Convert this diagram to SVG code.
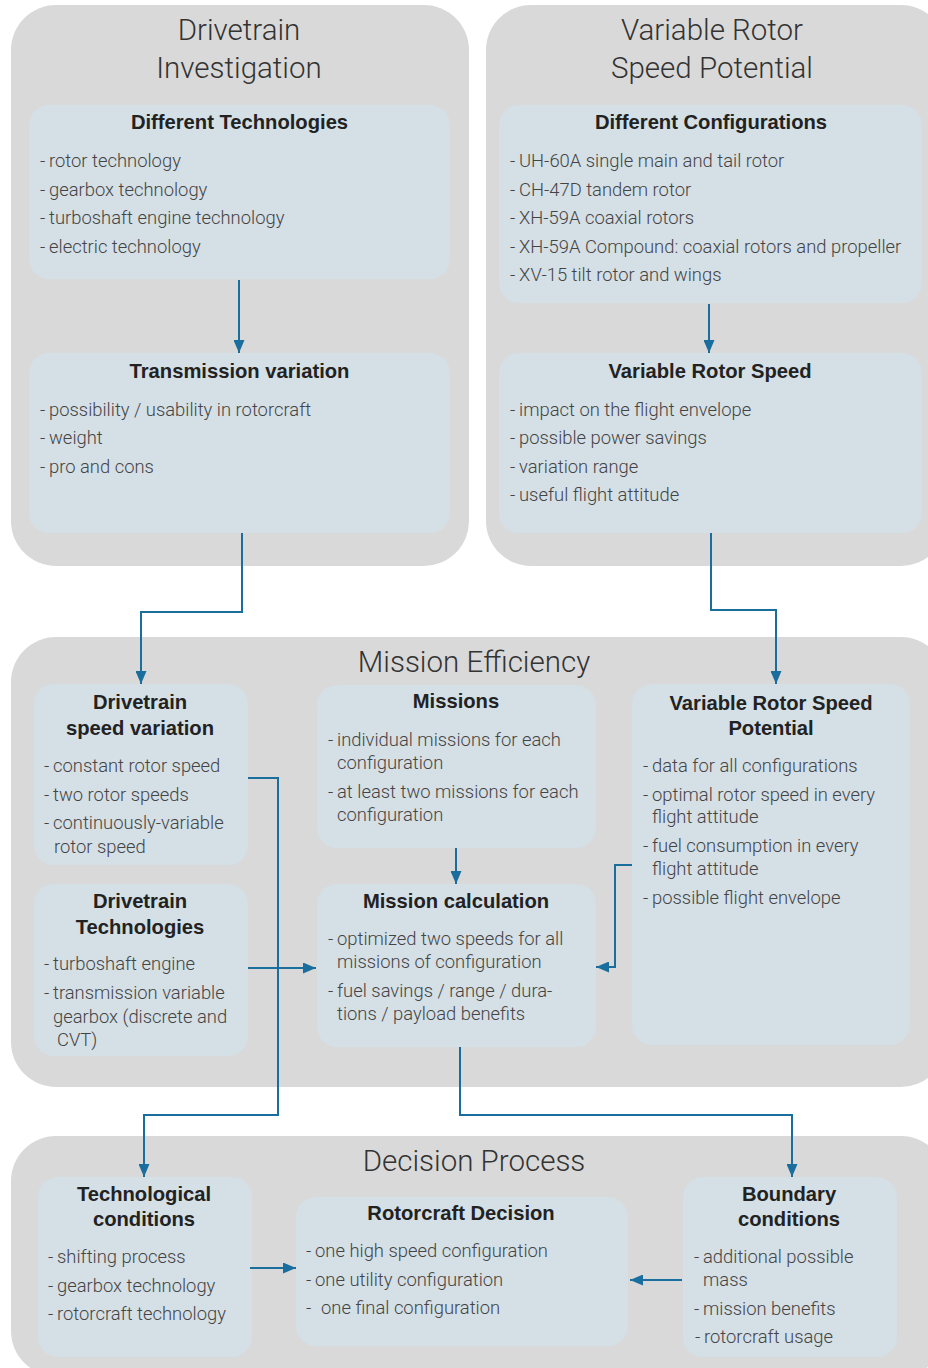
<svg xmlns="http://www.w3.org/2000/svg" width="928" height="1368" viewBox="0 0 928 1368">
<defs>
<marker id="arr" viewBox="0 0 13 11" refX="13" refY="5.5" markerWidth="13" markerHeight="11" markerUnits="userSpaceOnUse" orient="auto">
<path d="M0,0 L13,5.5 L0,11 z" fill="#1a6e9e"/>
</marker>
<style>
.panel{fill:#d9d9d9}
.box{fill:#d4dfe6}
.ptitle{font-family:Roboto,"Liberation Sans",sans-serif;font-weight:300;font-size:29.5px;fill:#333;text-anchor:middle}
.h{font-family:"Liberation Sans",Arial,sans-serif;font-weight:bold;font-size:20.2px;fill:#222;text-anchor:middle}
.t{font-family:Roboto,"Liberation Sans",sans-serif;font-weight:300;font-size:18.4px;fill:#444}
.c{fill:none;stroke:#1a6e9e;stroke-width:2}
</style>
</defs>
<rect width="928" height="1368" fill="#fff"/>

<g id="panel-drivetrain-investigation">
<rect class="panel" x="11" y="5" width="458" height="561" rx="45"/>
<text class="ptitle" x="239" y="40">Drivetrain</text>
<text class="ptitle" x="239" y="78">Investigation</text>
</g>
<g id="panel-variable-rotor">
<rect class="panel" x="486" y="5" width="460" height="561" rx="45"/>
<text class="ptitle" x="712" y="40">Variable Rotor</text>
<text class="ptitle" x="712" y="78">Speed Potential</text>
</g>
<g id="panel-mission-efficiency">
<rect class="panel" x="11" y="637" width="935" height="450" rx="45"/>
<text class="ptitle" x="474" y="672">Mission Efficiency</text>
</g>
<g id="panel-decision-process">
<rect class="panel" x="11" y="1136" width="935" height="240" rx="45"/>
<text class="ptitle" x="474" y="1171">Decision Process</text>
</g>

<g id="different-technologies">
<rect class="box" x="29" y="105" width="421" height="174" rx="20"/>
<text class="h" x="239.5" y="129">Different Technologies</text>
<text class="t"><tspan x="40" y="167">-</tspan><tspan x="49" y="167">rotor technology</tspan><tspan x="40" y="195.5">-</tspan><tspan x="49" y="195.5">gearbox technology</tspan><tspan x="40" y="224">-</tspan><tspan x="49" y="224">turboshaft engine technology</tspan><tspan x="40" y="252.5">-</tspan><tspan x="49" y="252.5">electric technology</tspan></text>
</g>
<g id="transmission-variation">
<rect class="box" x="29" y="353" width="421" height="180" rx="20"/>
<text class="h" x="239.5" y="378">Transmission variation</text>
<text class="t"><tspan x="40" y="415.5">-</tspan><tspan x="49" y="415.5">possibility / usability in rotorcraft</tspan><tspan x="40" y="444">-</tspan><tspan x="49" y="444">weight</tspan><tspan x="40" y="472.5">-</tspan><tspan x="49" y="472.5">pro and cons</tspan></text>
</g>
<g id="different-configurations">
<rect class="box" x="499" y="105" width="423" height="198" rx="20"/>
<text class="h" x="711" y="129">Different Configurations</text>
<text class="t"><tspan x="510" y="167">-</tspan><tspan x="519" y="167">UH-60A single main and tail rotor</tspan><tspan x="510" y="195.5">-</tspan><tspan x="519" y="195.5">CH-47D tandem rotor</tspan><tspan x="510" y="224">-</tspan><tspan x="519" y="224">XH-59A coaxial rotors</tspan><tspan x="510" y="252.5">-</tspan><tspan x="519" y="252.5">XH-59A Compound: coaxial rotors and propeller</tspan><tspan x="510" y="281">-</tspan><tspan x="519" y="281">XV-15 tilt rotor and wings</tspan></text>
</g>
<g id="variable-rotor-speed">
<rect class="box" x="499" y="353" width="423" height="180" rx="20"/>
<text class="h" x="710" y="378">Variable Rotor Speed</text>
<text class="t"><tspan x="510" y="415.5">-</tspan><tspan x="519" y="415.5">impact on the flight envelope</tspan><tspan x="510" y="444">-</tspan><tspan x="519" y="444">possible power savings</tspan><tspan x="510" y="472.5">-</tspan><tspan x="519" y="472.5">variation range</tspan><tspan x="510" y="501">-</tspan><tspan x="519" y="501">useful flight attitude</tspan></text>
</g>

<g id="drivetrain-speed-variation">
<rect class="box" x="34" y="684" width="214" height="181" rx="20"/>
<text class="h" x="140" y="709">Drivetrain</text>
<text class="h" x="140" y="735">speed variation</text>
<text class="t"><tspan x="44" y="772">-</tspan><tspan x="53" y="772">constant rotor speed</tspan><tspan x="44" y="800.5">-</tspan><tspan x="53" y="800.5">two rotor speeds</tspan><tspan x="44" y="829">-</tspan><tspan x="53" y="829">continuously-variable</tspan><tspan x="54" y="853">rotor speed</tspan></text>
</g>
<g id="drivetrain-technologies">
<rect class="box" x="34" y="884" width="214" height="172" rx="20"/>
<text class="h" x="140" y="908">Drivetrain</text>
<text class="h" x="140" y="934">Technologies</text>
<text class="t"><tspan x="44" y="970">-</tspan><tspan x="53" y="970">turboshaft engine</tspan><tspan x="44" y="999">-</tspan><tspan x="53" y="999">transmission variable</tspan><tspan x="53" y="1022.5">gearbox (discrete and</tspan><tspan x="57" y="1046">CVT)</tspan></text>
</g>
<g id="missions">
<rect class="box" x="317" y="685" width="279" height="163" rx="20"/>
<text class="h" x="456" y="708">Missions</text>
<text class="t"><tspan x="328" y="746">-</tspan><tspan x="337" y="746">individual missions for each</tspan><tspan x="337" y="769">configuration</tspan><tspan x="328" y="798">-</tspan><tspan x="337" y="798">at least two missions for each</tspan><tspan x="337" y="821">configuration</tspan></text>
</g>
<g id="mission-calculation">
<rect class="box" x="317" y="884" width="279" height="163" rx="20"/>
<text class="h" x="456" y="908">Mission calculation</text>
<text class="t"><tspan x="328" y="945">-</tspan><tspan x="337" y="945">optimized two speeds for all</tspan><tspan x="337" y="968">missions of configuration</tspan><tspan x="328" y="997">-</tspan><tspan x="337" y="997">fuel savings / range / dura-</tspan><tspan x="337" y="1020">tions / payload benefits</tspan></text>
</g>
<g id="variable-rotor-speed-potential">
<rect class="box" x="632" y="684" width="278" height="361" rx="20"/>
<text class="h" x="771" y="710">Variable Rotor Speed</text>
<text class="h" x="771" y="735">Potential</text>
<text class="t"><tspan x="643" y="772">-</tspan><tspan x="652" y="772">data for all configurations</tspan><tspan x="643" y="801">-</tspan><tspan x="652" y="801">optimal rotor speed in every</tspan><tspan x="652" y="823">flight attitude</tspan><tspan x="643" y="852">-</tspan><tspan x="652" y="852">fuel consumption in every</tspan><tspan x="652" y="875">flight attitude</tspan><tspan x="643" y="904">-</tspan><tspan x="652" y="904">possible flight envelope</tspan></text>
</g>

<g id="technological-conditions">
<rect class="box" x="38" y="1177" width="214" height="180" rx="20"/>
<text class="h" x="144" y="1201">Technological</text>
<text class="h" x="144" y="1226">conditions</text>
<text class="t"><tspan x="48" y="1263">-</tspan><tspan x="57" y="1263">shifting process</tspan><tspan x="48" y="1291.5">-</tspan><tspan x="57" y="1291.5">gearbox technology</tspan><tspan x="48" y="1320">-</tspan><tspan x="57" y="1320">rotorcraft technology</tspan></text>
</g>
<g id="rotorcraft-decision">
<rect class="box" x="296" y="1197" width="332" height="149" rx="20"/>
<text class="h" x="461" y="1220">Rotorcraft Decision</text>
<text class="t"><tspan x="306" y="1257">-</tspan><tspan x="315" y="1257">one high speed configuration</tspan><tspan x="306" y="1286">-</tspan><tspan x="315" y="1286">one utility configuration</tspan><tspan x="306" y="1314">-</tspan><tspan x="321" y="1314">one final configuration</tspan></text>
</g>
<g id="boundary-conditions">
<rect class="box" x="683" y="1177" width="214" height="180" rx="20"/>
<text class="h" x="789" y="1201">Boundary</text>
<text class="h" x="789" y="1226">conditions</text>
<text class="t"><tspan x="694" y="1263">-</tspan><tspan x="703" y="1263">additional possible</tspan><tspan x="703" y="1286">mass</tspan><tspan x="694" y="1315">-</tspan><tspan x="703" y="1315">mission benefits</tspan><tspan x="695" y="1343">-</tspan><tspan x="704" y="1343">rotorcraft usage</tspan></text>
</g>

<g id="connectors">
<path class="c" d="M239,280 V353" marker-end="url(#arr)"/>
<path class="c" d="M709,304 V353" marker-end="url(#arr)"/>
<path class="c" d="M242,533 V612 H141 V684" marker-end="url(#arr)"/>
<path class="c" d="M711,533 V610 H776 V684" marker-end="url(#arr)"/>
<path class="c" d="M248,778 H278 V1115 H144 V1177" marker-end="url(#arr)"/>
<path class="c" d="M248,968 H316" marker-end="url(#arr)"/>
<path class="c" d="M632,865 H615 V967 H596" marker-end="url(#arr)"/>
<path class="c" d="M456,848 V884" marker-end="url(#arr)"/>
<path class="c" d="M460,1047 V1115 H792 V1177" marker-end="url(#arr)"/>
<path class="c" d="M250,1268 H296" marker-end="url(#arr)"/>
<path class="c" d="M682,1280 H630" marker-end="url(#arr)"/>
</g>
</svg>
